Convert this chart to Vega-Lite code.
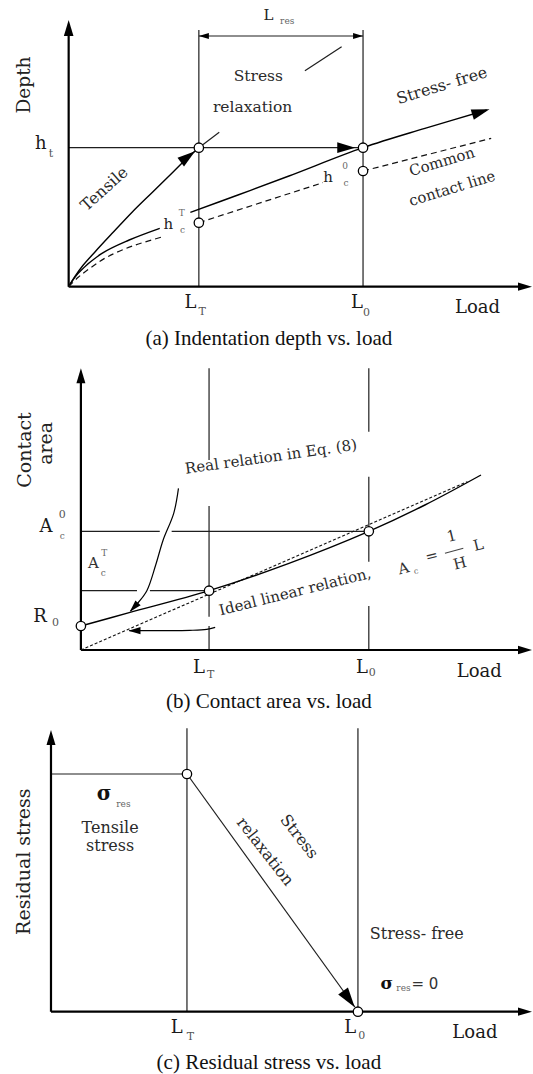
{
  "$schema": "https://vega.github.io/schema/vega-lite/v6.json",
  "background": "white",
  "padding": 0,
  "spacing": 0,
  "config": {"view": {"stroke": null}},
  "datasets": {
    "a": [
      {"kind": "axis", "x": 0, "y": 0, "x2": 0, "y2": 78},
      {"kind": "axis", "x": 0, "y": 0, "x2": 134, "y2": 0},
      {"kind": "guide", "x": 38.3, "y": 0, "x2": 38.3, "y2": 77},
      {"kind": "guide", "x": 86.6, "y": 0, "x2": 86.6, "y2": 77},
      {"kind": "guide", "x": 0, "y": 41.7, "x2": 86.6, "y2": 41.7},
      {"kind": "guide", "x": 38.3, "y": 75.2, "x2": 86.6, "y2": 75.2},
      {"kind": "guide", "x": 38.3, "y": 41.7, "x2": 44.3, "y2": 46.3},
      {"kind": "guide", "x": 69.5, "y": 64.8, "x2": 80.3, "y2": 72.0},
      {"kind": "curve", "seg": "tensile", "x": 0, "y": 0},
      {"kind": "curve", "seg": "tensile", "x": 1.8, "y": 3.0},
      {"kind": "curve", "seg": "tensile", "x": 4.3, "y": 6.5},
      {"kind": "curve", "seg": "tensile", "x": 7.8, "y": 10.5},
      {"kind": "curve", "seg": "tensile", "x": 12.8, "y": 16.0},
      {"kind": "curve", "seg": "tensile", "x": 18.8, "y": 22.5},
      {"kind": "curve", "seg": "tensile", "x": 24.8, "y": 28.5},
      {"kind": "curve", "seg": "tensile", "x": 30.8, "y": 34.5},
      {"kind": "curve", "seg": "tensile", "x": 35.8, "y": 39.5},
      {"kind": "curve", "seg": "tensile", "x": 37.4, "y": 40.8},
      {"kind": "curve", "seg": "unload", "x": 0, "y": 0},
      {"kind": "curve", "seg": "unload", "x": 2.8, "y": 4.0},
      {"kind": "curve", "seg": "unload", "x": 9.8, "y": 10.0},
      {"kind": "curve", "seg": "unload", "x": 17.8, "y": 14.0},
      {"kind": "curve", "seg": "unload", "x": 26.8, "y": 17.5},
      {"kind": "curve", "seg": "free", "x": 35.8, "y": 22.3},
      {"kind": "curve", "seg": "free", "x": 49.8, "y": 27.5},
      {"kind": "curve", "seg": "free", "x": 64.8, "y": 33.2},
      {"kind": "curve", "seg": "free", "x": 86.6, "y": 41.7},
      {"kind": "curve", "seg": "free", "x": 104.8, "y": 47.5},
      {"kind": "curve", "seg": "free", "x": 123.0, "y": 53.0},
      {"kind": "dash", "seg": "c1", "x": 0, "y": 0},
      {"kind": "dash", "seg": "c1", "x": 2.9, "y": 2.9},
      {"kind": "dash", "seg": "c1", "x": 6.8, "y": 5.9},
      {"kind": "dash", "seg": "c1", "x": 11.3, "y": 8.9},
      {"kind": "dash", "seg": "c1", "x": 18.8, "y": 12.2},
      {"kind": "dash", "seg": "c1", "x": 27.8, "y": 15.0},
      {"kind": "dash", "seg": "c2", "x": 38.3, "y": 19.2},
      {"kind": "dash", "seg": "c2", "x": 74.8, "y": 31.2},
      {"kind": "dash", "seg": "c3", "x": 86.6, "y": 34.7},
      {"kind": "dash", "seg": "c3", "x": 124.3, "y": 44.5},
      {"kind": "ring", "x": 38.3, "y": 41.7},
      {"kind": "ring", "x": 86.6, "y": 41.7},
      {"kind": "ring", "x": 38.3, "y": 19.2},
      {"kind": "ring", "x": 86.6, "y": 34.7},
      {"kind": "tip", "tip": "axis-up", "x": 0, "y": 80},
      {"kind": "tip", "tip": "axis-right", "x": 136.3, "y": 0},
      {"kind": "tip", "tip": "hold", "x": 84.3, "y": 41.7},
      {"kind": "tip", "tip": "span-right", "x": 86.6, "y": 75.2},
      {"kind": "tip", "tip": "span-left", "x": 38.3, "y": 75.2},
      {"kind": "tip", "tip": "tensile", "x": 37.2, "y": 40.6},
      {"kind": "tip", "tip": "free", "x": 123.8, "y": 53.2},
      {"role": "ytitle", "label": "Depth", "x": -13.2, "y": 60.5},
      {"role": "sym", "label": "h", "x": -8.2, "y": 42.8},
      {"role": "sym", "label": "L", "x": 35.8, "y": -5.0},
      {"role": "sym", "label": "L", "x": 84.8, "y": -5.0},
      {"role": "sym", "label": "Load", "x": 120.3, "y": -6.5},
      {"role": "sym15", "label": "L", "x": 58.8, "y": 81.5},
      {"role": "sym15", "label": "h", "x": 29.3, "y": 18.8},
      {"role": "sym15", "label": "h", "x": 76.3, "y": 33.0},
      {"role": "sub", "label": "t", "x": -5.2, "y": 39.8},
      {"role": "sub", "label": "T", "x": 39.3, "y": -7.5},
      {"role": "sub", "label": "0", "x": 87.6, "y": -7.8},
      {"role": "tiny", "label": "res", "x": 64.3, "y": 79.7},
      {"role": "tiny", "label": "T", "x": 33.3, "y": 22.0},
      {"role": "tiny", "label": "c", "x": 33.5, "y": 17.0},
      {"role": "tiny", "label": "0", "x": 81.3, "y": 36.3},
      {"role": "tiny", "label": "c", "x": 81.6, "y": 31.0},
      {"role": "note", "label": "Stress", "x": 55.8, "y": 63.2},
      {"role": "note", "label": "relaxation", "x": 54.1, "y": 53.8},
      {"role": "tensile", "label": "Tensile", "x": 10.5, "y": 29.3},
      {"role": "free", "label": "Stress- free", "x": 109.8, "y": 60.3},
      {"role": "common", "label": "Common", "x": 109.8, "y": 37.5},
      {"role": "common", "label": "contact line", "x": 112.8, "y": 29.5},
      {"role": "caption", "label": "(a) Indentation depth vs. load", "x": 58.9, "y": -15.7}
    ],
    "b": [
      {"kind": "axis", "x": 0, "y": 0, "x2": 0, "y2": 83},
      {"kind": "axis", "x": 0, "y": 0, "x2": 130.5, "y2": 0},
      {"kind": "guide", "x": 37.7, "y": 84.5, "x2": 37.7, "y2": 57.0},
      {"kind": "guide", "x": 37.7, "y": 43.2, "x2": 37.7, "y2": 10.0},
      {"kind": "guide", "x": 37.7, "y": 7.2, "x2": 37.7, "y2": 0},
      {"kind": "guide", "x": 84.7, "y": 84.5, "x2": 84.7, "y2": 65.5},
      {"kind": "guide", "x": 84.7, "y": 52.0, "x2": 84.7, "y2": 26.5},
      {"kind": "guide", "x": 84.7, "y": 13.2, "x2": 84.7, "y2": 0},
      {"kind": "guide", "x": 0, "y": 35.6, "x2": 23.2, "y2": 35.6},
      {"kind": "guide", "x": 26.7, "y": 35.6, "x2": 84.7, "y2": 35.6},
      {"kind": "guide", "x": 0, "y": 17.8, "x2": 16.5, "y2": 17.8},
      {"kind": "guide", "x": 20.3, "y": 17.8, "x2": 37.7, "y2": 17.8},
      {"kind": "bar", "x": 107.1, "y": 29.0, "x2": 112.5, "y2": 30.5},
      {"kind": "curve", "seg": "real", "x": 0, "y": 7.2},
      {"kind": "curve", "seg": "real", "x": 14.2, "y": 11.2},
      {"kind": "curve", "seg": "real", "x": 37.7, "y": 17.8},
      {"kind": "curve", "seg": "real", "x": 61.2, "y": 26.0},
      {"kind": "curve", "seg": "real", "x": 84.7, "y": 35.6},
      {"kind": "curve", "seg": "real", "x": 101.2, "y": 43.5},
      {"kind": "curve", "seg": "real", "x": 117.7, "y": 52.5},
      {"kind": "pointer", "seg": "p1", "x": 28.7, "y": 48.5},
      {"kind": "pointer", "seg": "p1", "x": 27.3, "y": 41.0},
      {"kind": "pointer", "seg": "p1", "x": 24.2, "y": 33.0},
      {"kind": "pointer", "seg": "p1", "x": 22.0, "y": 25.5},
      {"kind": "pointer", "seg": "p1", "x": 19.4, "y": 17.8},
      {"kind": "pointer", "seg": "p1", "x": 16.5, "y": 13.8},
      {"kind": "pointer", "seg": "p1", "x": 14.6, "y": 11.7},
      {"kind": "pointer", "seg": "p2", "x": 39.5, "y": 6.8},
      {"kind": "pointer", "seg": "p2", "x": 37.0, "y": 6.2},
      {"kind": "pointer", "seg": "p2", "x": 32.0, "y": 5.9},
      {"kind": "pointer", "seg": "p2", "x": 25.0, "y": 5.8},
      {"kind": "pointer", "seg": "p2", "x": 14.2, "y": 5.8},
      {"kind": "dash", "seg": "ideal", "x": 0, "y": 0},
      {"kind": "dash", "seg": "ideal", "x": 113.7, "y": 50.5},
      {"kind": "ring", "x": 0, "y": 7.2},
      {"kind": "ring", "x": 37.7, "y": 17.8},
      {"kind": "ring", "x": 84.7, "y": 35.6},
      {"kind": "tip", "tip": "axis-up", "x": 0, "y": 84.5},
      {"kind": "tip", "tip": "axis-right", "x": 132.7, "y": 0},
      {"kind": "tip", "tip": "p1", "x": 14.4, "y": 11.5},
      {"kind": "tip", "tip": "p2", "x": 14.0, "y": 5.8},
      {"role": "ytitle", "label": "Contact", "x": -16.5, "y": 60.0},
      {"role": "ytitle", "label": "area", "x": -10.3, "y": 62.0},
      {"role": "sym", "label": "A", "x": -10.3, "y": 37.0},
      {"role": "sym", "label": "R", "x": -12.0, "y": 9.8},
      {"role": "sym", "label": "L", "x": 34.7, "y": -5.5},
      {"role": "sym", "label": "L", "x": 82.7, "y": -5.5},
      {"role": "sym", "label": "Load", "x": 117.2, "y": -6.5},
      {"role": "sym15", "label": "A", "x": 3.65, "y": 26.0},
      {"role": "sub", "label": "0", "x": -5.5, "y": 40.5},
      {"role": "sub", "label": "0", "x": -7.5, "y": 8.0},
      {"role": "sub", "label": "T", "x": 38.2, "y": -7.5},
      {"role": "sub", "label": "0", "x": 85.7, "y": -7.0},
      {"role": "tiny", "label": "c", "x": -5.5, "y": 34.3},
      {"role": "tiny", "label": "T", "x": 6.9, "y": 29.0},
      {"role": "tiny", "label": "c", "x": 6.6, "y": 23.0},
      {"role": "real", "label": "Real relation in Eq. (8)", "x": 55.9, "y": 58.0},
      {"role": "ideal", "label": "Ideal linear relation,", "x": 63.0, "y": 17.5},
      {"role": "formula", "label": "A", "x": 94.9, "y": 24.5},
      {"role": "formula", "label": "=", "x": 103.2, "y": 28.2},
      {"role": "formula", "label": "1", "x": 109.1, "y": 34.2},
      {"role": "formula", "label": "H", "x": 111.5, "y": 26.0},
      {"role": "formula", "label": "L", "x": 116.9, "y": 31.5},
      {"role": "formula-sub", "label": "c", "x": 98.6, "y": 23.5},
      {"role": "caption", "label": "(b) Contact area vs. load", "x": 55.3, "y": -15.6}
    ],
    "c": [
      {"kind": "axis", "x": 0, "y": 0, "x2": 0, "y2": 82.5},
      {"kind": "axis", "x": 0, "y": 0, "x2": 139.5, "y2": 0},
      {"kind": "guide", "x": 40, "y": 0, "x2": 40, "y2": 85.0},
      {"kind": "guide", "x": 90.3, "y": 0, "x2": 90.3, "y2": 85.0},
      {"kind": "guide", "x": 0, "y": 71.3, "x2": 40, "y2": 71.3},
      {"kind": "guide", "x": 40, "y": 71.3, "x2": 89.4, "y2": 1.4},
      {"kind": "ring", "x": 40, "y": 71.3},
      {"kind": "ring", "x": 90.3, "y": 0},
      {"kind": "tip", "tip": "axis-up", "x": 0, "y": 84.5},
      {"kind": "tip", "tip": "axis-right", "x": 141.5, "y": 0},
      {"kind": "tip", "tip": "relax", "x": 89.36, "y": 1.35},
      {"role": "ytitle", "label": "Residual stress", "x": -8.0, "y": 45.0},
      {"role": "sym", "label": "L", "x": 37.0, "y": -5.0},
      {"role": "sym", "label": "L", "x": 88.0, "y": -4.8},
      {"role": "sym", "label": "Load", "x": 124.7, "y": -6.5},
      {"role": "sub", "label": "T", "x": 41.0, "y": -7.7},
      {"role": "sub", "label": "0", "x": 91.4, "y": -7.2},
      {"role": "sigma", "label": "σ", "x": 15.6, "y": 65.3},
      {"role": "sigma-small", "label": "σ", "x": 98.8, "y": 8.2},
      {"role": "tiny", "label": "res", "x": 21.3, "y": 62.2},
      {"role": "tiny", "label": "res", "x": 103.7, "y": 7.0},
      {"role": "note", "label": "Tensile", "x": 17.4, "y": 55.2},
      {"role": "note", "label": "stress", "x": 17.4, "y": 49.8},
      {"role": "note", "label": "Stress- free", "x": 107.6, "y": 23.2},
      {"role": "eq", "label": "= 0", "x": 110.0, "y": 8.2},
      {"role": "relax", "label": "Stress", "x": 73.0, "y": 52.5},
      {"role": "relax", "label": "relaxation", "x": 63.0, "y": 48.0},
      {"role": "caption", "label": "(c) Residual stress vs. load", "x": 64.1, "y": -15.4}
    ]
  },
  "vconcat": [
    {
      "width": 533,
      "height": 352,
      "data": {"name": "a"},
      "encoding": {
        "x": {"field": "x", "type": "quantitative", "scale": {"domain": [-20.2, 136.6], "nice": false, "zero": false}, "axis": null},
        "y": {"field": "y", "type": "quantitative", "scale": {"domain": [-19.6, 86.0], "nice": false, "zero": false}, "axis": null}
      },
      "layer": [
        {"transform": [{"filter": {"field": "kind", "equal": "guide"}}], "mark": {"type": "rule", "color": "#1e1e1e", "strokeWidth": 1.2}, "encoding": {"x2": {"field": "x2"}, "y2": {"field": "y2"}}},
        {"transform": [{"filter": {"field": "kind", "equal": "axis"}}], "mark": {"type": "rule", "color": "#000", "strokeWidth": 2.2}, "encoding": {"x2": {"field": "x2"}, "y2": {"field": "y2"}}},
        {"transform": [{"filter": {"field": "kind", "equal": "curve"}}], "mark": {"type": "line", "color": "#000", "strokeWidth": 1.4, "interpolate": "catmull-rom"}, "encoding": {"detail": {"field": "seg"}, "order": {"value": null}}},
        {"transform": [{"filter": {"field": "kind", "equal": "dash"}}], "mark": {"type": "line", "color": "#111", "strokeWidth": 1.2, "strokeDash": [6, 4], "interpolate": "catmull-rom"}, "encoding": {"detail": {"field": "seg"}, "order": {"value": null}}},
        {"transform": [{"filter": {"field": "kind", "equal": "ring"}}], "mark": {"type": "point", "shape": "circle", "filled": true, "fill": "#fff", "stroke": "#000", "strokeWidth": 1.3, "size": 88, "opacity": 1}},
        {"transform": [{"filter": {"field": "tip", "equal": "axis-up"}}], "mark": {"type": "point", "shape": "M0,0L0.6,2L-0.6,2Z", "filled": true, "color": "#000", "opacity": 1, "size": 256, "angle": 0}},
        {"transform": [{"filter": {"field": "tip", "equal": "axis-right"}}], "mark": {"type": "point", "shape": "M0,0L0.6,2L-0.6,2Z", "filled": true, "color": "#000", "opacity": 1, "size": 196, "angle": 90}},
        {"transform": [{"filter": {"field": "tip", "equal": "hold"}}], "mark": {"type": "point", "shape": "M0,0L0.6,2L-0.6,2Z", "filled": true, "color": "#000", "opacity": 1, "size": 324, "angle": 90}},
        {"transform": [{"filter": {"field": "tip", "equal": "span-right"}}], "mark": {"type": "point", "shape": "M0,0L0.6,2L-0.6,2Z", "filled": true, "color": "#000", "opacity": 1, "size": 100, "angle": 90}},
        {"transform": [{"filter": {"field": "tip", "equal": "span-left"}}], "mark": {"type": "point", "shape": "M0,0L0.6,2L-0.6,2Z", "filled": true, "color": "#000", "opacity": 1, "size": 100, "angle": 270}},
        {"transform": [{"filter": {"field": "tip", "equal": "tensile"}}], "mark": {"type": "point", "shape": "M0,0L0.6,2L-0.6,2Z", "filled": true, "color": "#000", "opacity": 1, "size": 324, "angle": 53}},
        {"transform": [{"filter": {"field": "tip", "equal": "free"}}], "mark": {"type": "point", "shape": "M0,0L0.6,2L-0.6,2Z", "filled": true, "color": "#000", "opacity": 1, "size": 324, "angle": 73}},
        {"transform": [{"filter": {"field": "role", "equal": "ytitle"}}], "mark": {"type": "text", "font": "DejaVu Serif", "fontSize": 18.5, "angle": 270, "color": "#222"}, "encoding": {"text": {"field": "label"}}},
        {"transform": [{"filter": {"field": "role", "equal": "sym"}}], "mark": {"type": "text", "font": "DejaVu Serif", "fontSize": 18, "color": "#1a1a1a"}, "encoding": {"text": {"field": "label"}}},
        {"transform": [{"filter": {"field": "role", "equal": "sym15"}}], "mark": {"type": "text", "font": "DejaVu Serif", "fontSize": 15, "color": "#222"}, "encoding": {"text": {"field": "label"}}},
        {"transform": [{"filter": {"field": "role", "equal": "sub"}}], "mark": {"type": "text", "font": "DejaVu Serif", "fontSize": 11, "color": "#555"}, "encoding": {"text": {"field": "label"}}},
        {"transform": [{"filter": {"field": "role", "equal": "tiny"}}], "mark": {"type": "text", "font": "DejaVu Serif", "fontSize": 9, "color": "#666"}, "encoding": {"text": {"field": "label"}}},
        {"transform": [{"filter": {"field": "role", "equal": "note"}}], "mark": {"type": "text", "font": "DejaVu Serif", "fontSize": 15.5, "color": "#2a2a2a"}, "encoding": {"text": {"field": "label"}}},
        {"transform": [{"filter": {"field": "role", "equal": "tensile"}}], "mark": {"type": "text", "font": "DejaVu Serif", "fontSize": 16, "angle": -42, "color": "#2a2a2a"}, "encoding": {"text": {"field": "label"}}},
        {"transform": [{"filter": {"field": "role", "equal": "free"}}], "mark": {"type": "text", "font": "DejaVu Serif", "fontSize": 16, "angle": -17, "color": "#2a2a2a"}, "encoding": {"text": {"field": "label"}}},
        {"transform": [{"filter": {"field": "role", "equal": "common"}}], "mark": {"type": "text", "font": "DejaVu Serif", "fontSize": 15, "angle": -17, "color": "#2a2a2a"}, "encoding": {"text": {"field": "label"}}},
        {"transform": [{"filter": {"field": "role", "equal": "caption"}}], "mark": {"type": "text", "font": "Liberation Serif", "fontSize": 21, "color": "#111"}, "encoding": {"text": {"field": "label"}}}
      ]
    },
    {
      "width": 533,
      "height": 362,
      "data": {"name": "b"},
      "encoding": {
        "x": {"field": "x", "type": "quantitative", "scale": {"domain": [-23.8, 133.0], "nice": false, "zero": false}, "axis": null},
        "y": {"field": "y", "type": "quantitative", "scale": {"domain": [-19.2, 89.4], "nice": false, "zero": false}, "axis": null}
      },
      "layer": [
        {"transform": [{"filter": {"field": "kind", "equal": "guide"}}], "mark": {"type": "rule", "color": "#1e1e1e", "strokeWidth": 1.2}, "encoding": {"x2": {"field": "x2"}, "y2": {"field": "y2"}}},
        {"transform": [{"filter": {"field": "kind", "equal": "bar"}}], "mark": {"type": "rule", "color": "#444", "strokeWidth": 1.1}, "encoding": {"x2": {"field": "x2"}, "y2": {"field": "y2"}}},
        {"transform": [{"filter": {"field": "kind", "equal": "axis"}}], "mark": {"type": "rule", "color": "#000", "strokeWidth": 2.2}, "encoding": {"x2": {"field": "x2"}, "y2": {"field": "y2"}}},
        {"transform": [{"filter": {"field": "kind", "equal": "dash"}}], "mark": {"type": "line", "color": "#111", "strokeWidth": 1.1, "strokeDash": [3, 2]}, "encoding": {"detail": {"field": "seg"}, "order": {"value": null}}},
        {"transform": [{"filter": {"field": "kind", "equal": "curve"}}], "mark": {"type": "line", "color": "#000", "strokeWidth": 1.4, "interpolate": "catmull-rom"}, "encoding": {"detail": {"field": "seg"}, "order": {"value": null}}},
        {"transform": [{"filter": {"field": "kind", "equal": "pointer"}}], "mark": {"type": "line", "color": "#000", "strokeWidth": 1.2, "interpolate": "catmull-rom"}, "encoding": {"detail": {"field": "seg"}, "order": {"value": null}}},
        {"transform": [{"filter": {"field": "kind", "equal": "ring"}}], "mark": {"type": "point", "shape": "circle", "filled": true, "fill": "#fff", "stroke": "#000", "strokeWidth": 1.3, "size": 88, "opacity": 1}},
        {"transform": [{"filter": {"field": "tip", "equal": "axis-up"}}], "mark": {"type": "point", "shape": "M0,0L0.6,2L-0.6,2Z", "filled": true, "color": "#000", "opacity": 1, "size": 225, "angle": 0}},
        {"transform": [{"filter": {"field": "tip", "equal": "axis-right"}}], "mark": {"type": "point", "shape": "M0,0L0.6,2L-0.6,2Z", "filled": true, "color": "#000", "opacity": 1, "size": 196, "angle": 90}},
        {"transform": [{"filter": {"field": "tip", "equal": "p1"}}], "mark": {"type": "point", "shape": "M0,0L0.6,2L-0.6,2Z", "filled": true, "color": "#000", "opacity": 1, "size": 144, "angle": 223}},
        {"transform": [{"filter": {"field": "tip", "equal": "p2"}}], "mark": {"type": "point", "shape": "M0,0L0.6,2L-0.6,2Z", "filled": true, "color": "#000", "opacity": 1, "size": 144, "angle": 270}},
        {"transform": [{"filter": {"field": "role", "equal": "ytitle"}}], "mark": {"type": "text", "font": "DejaVu Serif", "fontSize": 19, "angle": 270, "color": "#222"}, "encoding": {"text": {"field": "label"}}},
        {"transform": [{"filter": {"field": "role", "equal": "sym"}}], "mark": {"type": "text", "font": "DejaVu Serif", "fontSize": 18, "color": "#1a1a1a"}, "encoding": {"text": {"field": "label"}}},
        {"transform": [{"filter": {"field": "role", "equal": "sym15"}}], "mark": {"type": "text", "font": "DejaVu Serif", "fontSize": 15, "color": "#333"}, "encoding": {"text": {"field": "label"}}},
        {"transform": [{"filter": {"field": "role", "equal": "sub"}}], "mark": {"type": "text", "font": "DejaVu Serif", "fontSize": 11, "color": "#555"}, "encoding": {"text": {"field": "label"}}},
        {"transform": [{"filter": {"field": "role", "equal": "tiny"}}], "mark": {"type": "text", "font": "DejaVu Serif", "fontSize": 9, "color": "#666"}, "encoding": {"text": {"field": "label"}}},
        {"transform": [{"filter": {"field": "role", "equal": "real"}}], "mark": {"type": "text", "font": "DejaVu Serif", "fontSize": 15, "angle": -8, "color": "#2a2a2a"}, "encoding": {"text": {"field": "label"}}},
        {"transform": [{"filter": {"field": "role", "equal": "ideal"}}], "mark": {"type": "text", "font": "DejaVu Serif", "fontSize": 15, "angle": -14, "color": "#2a2a2a"}, "encoding": {"text": {"field": "label"}}},
        {"transform": [{"filter": {"field": "role", "equal": "formula"}}], "mark": {"type": "text", "font": "DejaVu Serif", "fontSize": 15, "angle": -14, "color": "#333"}, "encoding": {"text": {"field": "label"}}},
        {"transform": [{"filter": {"field": "role", "equal": "formula-sub"}}], "mark": {"type": "text", "font": "DejaVu Serif", "fontSize": 8, "angle": -14, "color": "#666"}, "encoding": {"text": {"field": "label"}}},
        {"transform": [{"filter": {"field": "role", "equal": "caption"}}], "mark": {"type": "text", "font": "Liberation Serif", "fontSize": 21, "color": "#111"}, "encoding": {"text": {"field": "label"}}}
      ]
    },
    {
      "width": 533,
      "height": 360,
      "data": {"name": "c"},
      "encoding": {
        "x": {"field": "x", "type": "quantitative", "scale": {"domain": [-15.0, 141.8], "nice": false, "zero": false}, "axis": null},
        "y": {"field": "y", "type": "quantitative", "scale": {"domain": [-18.7, 89.3], "nice": false, "zero": false}, "axis": null}
      },
      "layer": [
        {"transform": [{"filter": {"field": "kind", "equal": "guide"}}], "mark": {"type": "rule", "color": "#1e1e1e", "strokeWidth": 1.2}, "encoding": {"x2": {"field": "x2"}, "y2": {"field": "y2"}}},
        {"transform": [{"filter": {"field": "kind", "equal": "axis"}}], "mark": {"type": "rule", "color": "#000", "strokeWidth": 2.2}, "encoding": {"x2": {"field": "x2"}, "y2": {"field": "y2"}}},
        {"transform": [{"filter": {"field": "kind", "equal": "ring"}}], "mark": {"type": "point", "shape": "circle", "filled": true, "fill": "#fff", "stroke": "#000", "strokeWidth": 1.3, "size": 88, "opacity": 1}},
        {"transform": [{"filter": {"field": "tip", "equal": "axis-up"}}], "mark": {"type": "point", "shape": "M0,0L0.6,2L-0.6,2Z", "filled": true, "color": "#000", "opacity": 1, "size": 225, "angle": 0}},
        {"transform": [{"filter": {"field": "tip", "equal": "axis-right"}}], "mark": {"type": "point", "shape": "M0,0L0.6,2L-0.6,2Z", "filled": true, "color": "#000", "opacity": 1, "size": 196, "angle": 90}},
        {"transform": [{"filter": {"field": "tip", "equal": "relax"}}], "mark": {"type": "point", "shape": "M0,0L0.6,2L-0.6,2Z", "filled": true, "color": "#000", "opacity": 1, "size": 400, "angle": 144.3}},
        {"transform": [{"filter": {"field": "role", "equal": "ytitle"}}], "mark": {"type": "text", "font": "DejaVu Serif", "fontSize": 19, "angle": 270, "color": "#222"}, "encoding": {"text": {"field": "label"}}},
        {"transform": [{"filter": {"field": "role", "equal": "sym"}}], "mark": {"type": "text", "font": "DejaVu Serif", "fontSize": 18, "color": "#1a1a1a"}, "encoding": {"text": {"field": "label"}}},
        {"transform": [{"filter": {"field": "role", "equal": "sub"}}], "mark": {"type": "text", "font": "DejaVu Serif", "fontSize": 11, "color": "#555"}, "encoding": {"text": {"field": "label"}}},
        {"transform": [{"filter": {"field": "role", "equal": "tiny"}}], "mark": {"type": "text", "font": "DejaVu Serif", "fontSize": 9, "color": "#666"}, "encoding": {"text": {"field": "label"}}},
        {"transform": [{"filter": {"field": "role", "equal": "sigma"}}], "mark": {"type": "text", "font": "DejaVu Serif", "fontSize": 20, "fontWeight": "bold", "color": "#111"}, "encoding": {"text": {"field": "label"}}},
        {"transform": [{"filter": {"field": "role", "equal": "sigma-small"}}], "mark": {"type": "text", "font": "DejaVu Serif", "fontSize": 17, "fontWeight": "bold", "color": "#111"}, "encoding": {"text": {"field": "label"}}},
        {"transform": [{"filter": {"field": "role", "equal": "note"}}], "mark": {"type": "text", "font": "DejaVu Serif", "fontSize": 16, "color": "#2a2a2a"}, "encoding": {"text": {"field": "label"}}},
        {"transform": [{"filter": {"field": "role", "equal": "eq"}}], "mark": {"type": "text", "font": "DejaVu Sans", "fontSize": 15, "color": "#333"}, "encoding": {"text": {"field": "label"}}},
        {"transform": [{"filter": {"field": "role", "equal": "relax"}}], "mark": {"type": "text", "font": "DejaVu Serif", "fontSize": 16, "angle": 52, "color": "#2a2a2a"}, "encoding": {"text": {"field": "label"}}},
        {"transform": [{"filter": {"field": "role", "equal": "caption"}}], "mark": {"type": "text", "font": "Liberation Serif", "fontSize": 21, "color": "#111"}, "encoding": {"text": {"field": "label"}}}
      ]
    }
  ]
}
